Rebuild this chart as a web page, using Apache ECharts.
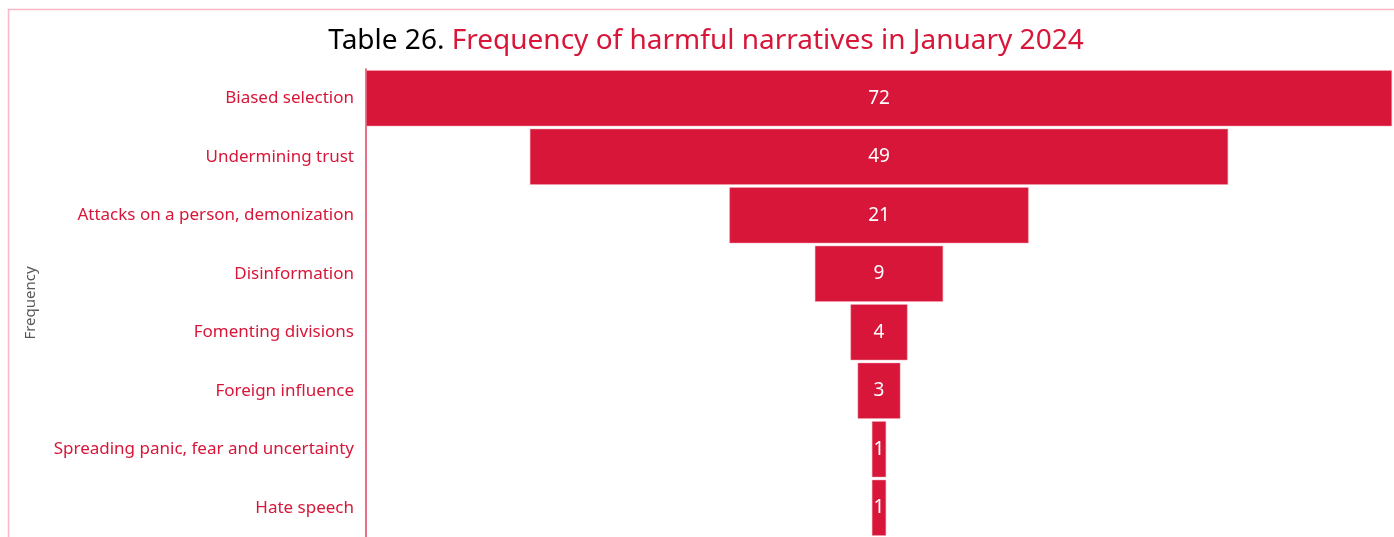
<!DOCTYPE html>
<html>
<head>
<meta charset="utf-8">
<script src="https://cdn.jsdelivr.net/npm/echarts@6/dist/echarts.min.js"></script>
<style>
  html, body { margin: 0; padding: 0; background: #ffffff; }
  #chart { width: 1394px; height: 537px; }
</style>
</head>
<body>
<div id="chart"></div>
<script>
// Harmful narrative categories, top to bottom
const categories = [
  'Biased selection',
  'Undermining trust',
  'Attacks on a person, demonization',
  'Disinformation',
  'Fomenting divisions',
  'Foreign influence',
  'Spreading panic, fear and uncertainty',
  'Hate speech'
];
// Number of occurrences per narrative
const counts = [72, 49, 21, 9, 4, 3, 1, 1];

const RED = '#d71639';
const maxCount = Math.max(...counts);
// Invisible spacer so every bar sits centred on the axis midpoint
const spacer = counts.map(v => (maxCount - v) / 2);

const chart = echarts.init(document.getElementById('chart'));
chart.setOption({
  animation: false,
  textStyle: { fontFamily: 'Noto Sans' },
  title: {
    text: '{a|Table 26. }{b|Frequency of harmful narratives in January 2024}',
    left: 701,
    textAlign: 'center',
    top: 22,
    textStyle: {
      fontWeight: 'normal',
      rich: {
        a: { fontSize: 28, color: '#000000', fontFamily: 'Noto Sans', fontWeight: 'normal' },
        b: { fontSize: 28, color: RED, fontFamily: 'Noto Sans', fontWeight: 'normal' }
      }
    }
  },
  graphic: [{
    type: 'rect',
    shape: { x: 8.5, y: 9.5, width: 1420, height: 600 },
    style: { fill: 'none', stroke: '#f5b8c4', lineWidth: 1.5 },
    silent: true,
    z: -1
  }],
  grid: { left: 366, top: 69, width: 1026, height: 469 },
  xAxis: {
    type: 'value',
    min: 0,
    max: maxCount,
    show: false
  },
  yAxis: {
    type: 'category',
    data: categories,
    inverse: true,
    name: 'Frequency',
    nameLocation: 'middle',
    nameGap: 328,
    nameRotate: 90,
    nameTextStyle: { color: '#595959', fontSize: 15, fontFamily: 'Noto Sans' },
    axisLine: { show: true, lineStyle: { color: '#e2405f', width: 1.5 } },
    axisTick: { show: false },
    axisLabel: { color: RED, fontSize: 17, margin: 12, fontFamily: 'Noto Sans' }
  },
  series: [
    {
      type: 'bar',
      stack: 'funnel',
      data: spacer,
      barWidth: 56,
      itemStyle: { color: 'transparent' },
      silent: true
    },
    {
      type: 'bar',
      stack: 'funnel',
      data: counts,
      barWidth: 56,
      itemStyle: { color: RED, borderColor: '#f3a3b3', borderWidth: 0.5 },
      label: {
        show: true,
        position: 'inside',
        color: '#ffffff',
        fontSize: 19,
        fontFamily: 'Noto Sans'
      }
    }
  ]
});
</script>
</body>
</html>
